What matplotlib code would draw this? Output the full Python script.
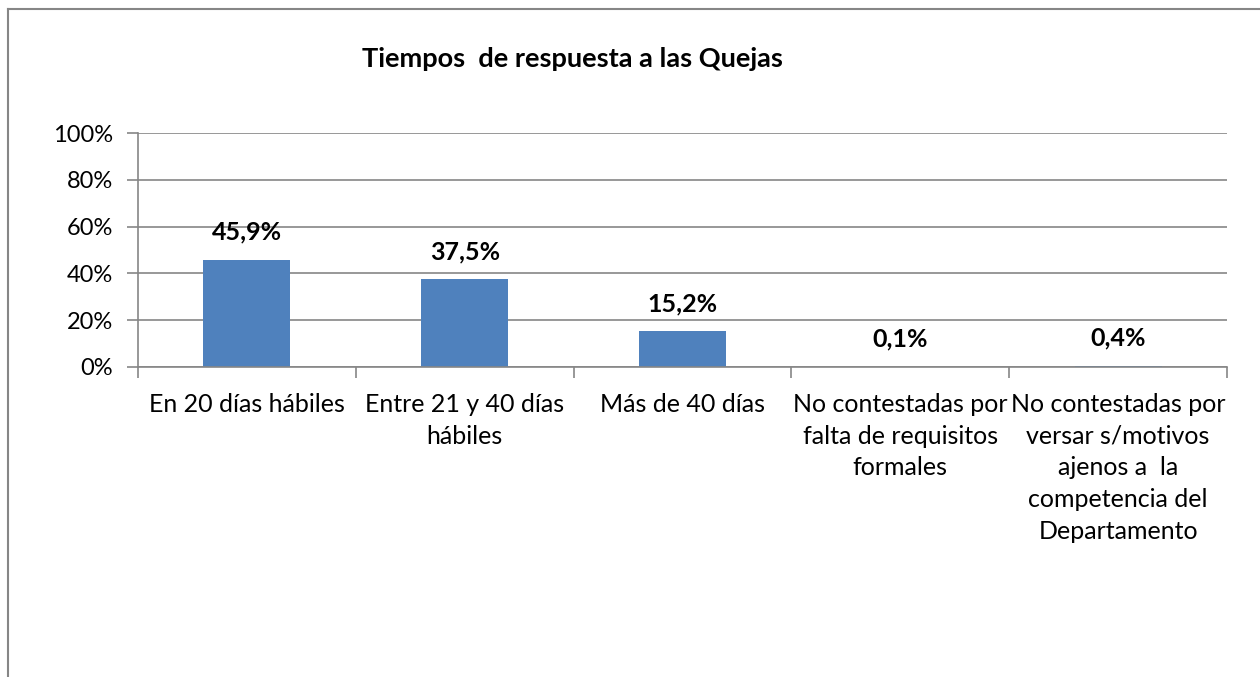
import matplotlib
matplotlib.use("Agg")
import matplotlib.pyplot as plt
from matplotlib.lines import Line2D
from matplotlib.ticker import FixedLocator, FuncFormatter

categories = [
    "En 20 días hábiles",
    "Entre 21 y 40 días\nhábiles",
    "Más de 40 días",
    "No contestadas por\nfalta de requisitos\nformales",
    "No contestadas por\nversar s/motivos\najenos a  la\ncompetencia del\nDepartamento",
]
values = [45.9, 37.5, 15.2, 0.1, 0.4]
value_labels = ["45,9%", "37,5%", "15,2%", "0,1%", "0,4%"]
y_ticks = [0, 20, 40, 60, 80, 100]
title = "Tiempos  de respuesta a las Quejas"

plt.rcParams['font.family'] = ['Lato', 'DejaVu Sans']
fig = plt.figure(figsize=(12.6, 6.77), dpi=100)
ax = fig.add_axes([138/1260, 1-367/677, (1227-138)/1260, (367-133)/677])
ax.set_axisbelow(True)

x = list(range(len(categories)))
bars = ax.bar(x, values, width=0.4, color="#4F81BD", zorder=1)
ax.set_xlim(-0.5, len(categories) - 0.5)
ax.set_ylim(0, 100)

grid_c = "#868686"
ax.set_yticks(y_ticks)
ax.yaxis.set_major_formatter(FuncFormatter(lambda v, p: f"{int(v)}%"))
ax.yaxis.grid(True, color=grid_c, linewidth=1.2)
ax.tick_params(axis='y', length=8, width=1.2, color=grid_c, labelsize=17, pad=10)
ax.set_xticks(x)
ax.set_xticklabels(categories, fontsize=18, linespacing=1.45, va='top')
ax.tick_params(axis='x', which='major', length=0, pad=19)
ax.xaxis.set_minor_locator(FixedLocator([i - 0.5 for i in range(len(categories) + 1)]))
ax.tick_params(axis='x', which='minor', length=8, width=1.2, color=grid_c)
for s in ['top', 'right']:
    ax.spines[s].set_visible(False)
for s in ['left', 'bottom']:
    ax.spines[s].set_color(grid_c)
    ax.spines[s].set_linewidth(1.2)
    ax.spines[s].set_zorder(3)

for b, lab in zip(bars, value_labels):
    ax.annotate(lab, (b.get_x() + b.get_width() / 2, b.get_height()),
                xytext=(0, 20), textcoords='offset points', ha='center', va='center',
                fontsize=18, fontweight='bold')

fig.text(572/1260, 1-59/677, title, ha='center', va='center', fontsize=19.5, fontweight='bold')

# chart frame
fig.add_artist(Line2D([8/1260, 8/1260], [0, 1-9/677], transform=fig.transFigure, color=grid_c, linewidth=1.5))
fig.add_artist(Line2D([8/1260, 1], [1-9/677, 1-9/677], transform=fig.transFigure, color=grid_c, linewidth=1.5))

fig.savefig("out.png", dpi=100)
